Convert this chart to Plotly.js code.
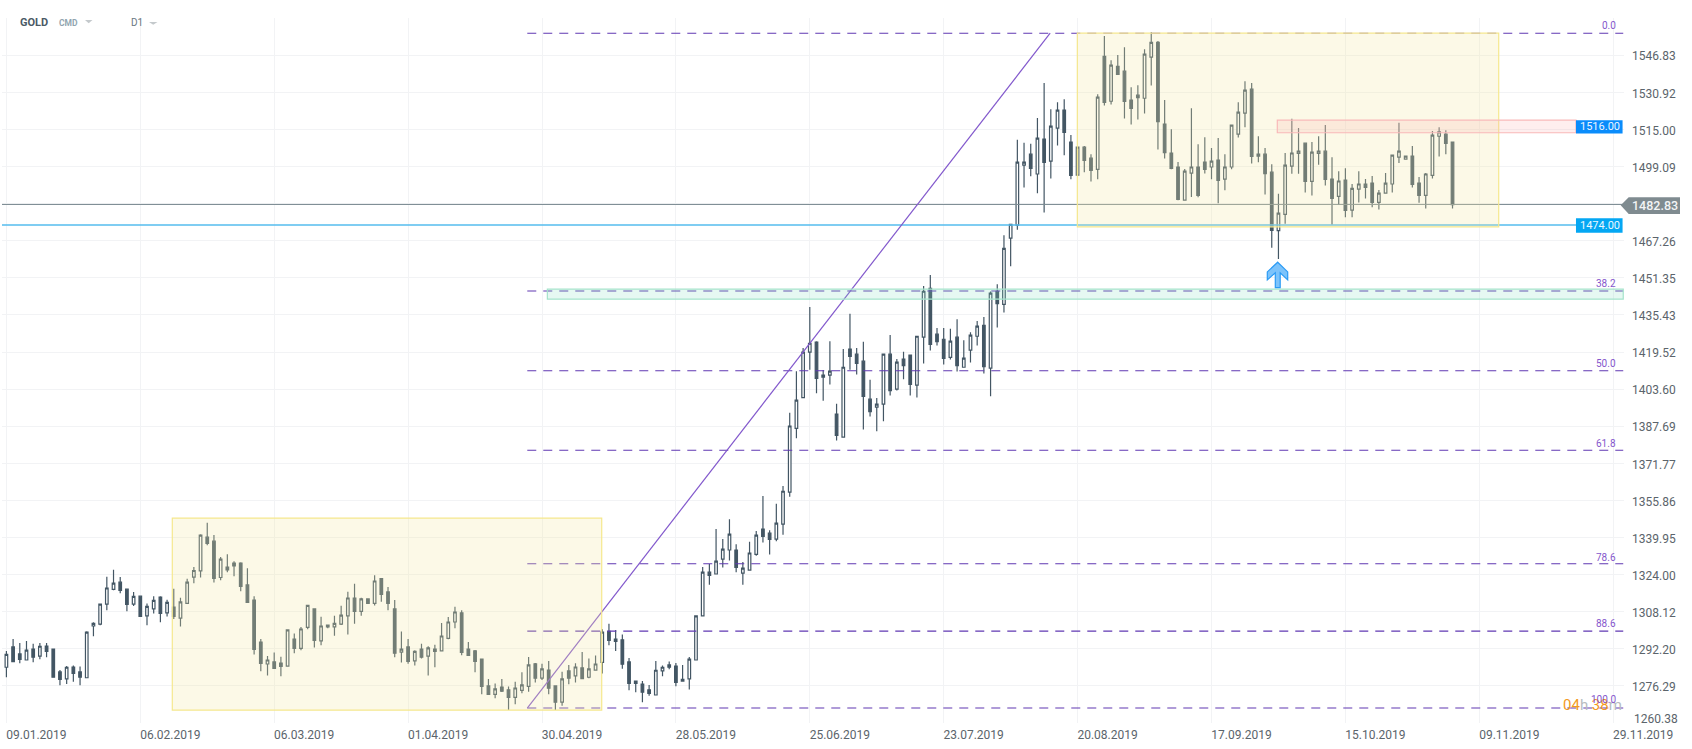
<!DOCTYPE html>
<html><head><meta charset="utf-8">
<script src="https://cdn.plot.ly/plotly-3.0.1.min.js"></script>
<style>html,body{margin:0;padding:0;background:#fff;overflow:hidden}#c{width:1692px;height:749px}</style>
</head><body><div id="c"></div>
<script>
const opens=[1284.3,1293.0,1290.0,1287.4,1292.1,1289.1,1293.4,1292.1,1282.3,1279.3,
1284.4,1282.3,1279.8,1302.0,1302.8,1311.4,1317.7,1320.8,1317.8,1311.4,
1314.8,1306.3,1309.3,1314.4,1307.6,1310.1,1305.4,1311.7,1323.0,1325.6,
1340.1,1338.4,1322.8,1327.3,1329.0,1329.0,1319.6,1313.1,1295.1,1285.7,
1286.6,1286.1,1284.8,1296.4,1292.4,1301.4,1309.3,1295.6,1301.6,1301.6,
1302.8,1306.3,1314.0,1308.3,1313.6,1311.7,1322.3,1316.6,1309.3,1290.8,
1293.0,1287.0,1292.1,1289.1,1292.1,1291.3,1296.7,1303.7,1307.6,1292.1,
1291.3,1287.8,1276.3,1272.7,1275.8,1274.6,1271.4,1274.4,1276.1,1285.8,
1279.6,1283.1,1276.3,1269.3,1282.7,1280.6,1284.0,1280.0,1283.1,1286.4,
1299.7,1296.4,1296.1,1286.6,1278.4,1277.1,1274.6,1272.4,1282.7,1285.3,
1284.8,1278.3,1279.3,1287.4,1306.3,1325.1,1324.3,1330.7,1334.6,1334.6,
1324.7,1326.0,1332.7,1343.6,1341.8,1339.3,1345.7,1359.4,1386.8,1400.0,
1419.5,1423.8,1408.8,1409.6,1392.9,1383.0,1420.8,1418.6,1415.6,1399.3,
1395.9,1397.2,1418.6,1403.6,1416.5,1418.2,1405.3,1425.9,1446.8,1427.2,
1425.0,1417.2,1425.9,1413.0,1420.3,1426.3,1431.0,1412.6,1445.6,1440.0,
1468.4,1474.0,1499.7,1504.4,1495.9,1510.9,1501.4,1515.6,1523.3,1509.6,
1495.4,1507.4,1502.7,1497.9,1546.4,1527.1,1542.1,1540.0,1527.6,1529.7,
1528.4,1546.0,1552.4,1517.3,1504.9,1498.9,1484.7,1496.3,1498.9,1501.0,
1498.9,1501.9,1493.7,1498.9,1513.0,1522.0,1532.3,1503.6,1504.4,1496.7,
1471.6,1478.6,1499.3,1504.7,1509.1,1492.7,1504.7,1505.7,1493.7,1486.3,
1493.3,1480.4,1489.4,1491.6,1492.0,1483.7,1487.7,1491.6,1503.1,1502.3,
1503.6,1492.0,1486.7,1495.3,1512.1,1513.0,1509.6];
const closes=[1289.8,1286.7,1287.7,1291.6,1288.6,1293.3,1291.1,1280.0,1279.1,1284.3,
1281.7,1280.0,1299.4,1303.1,1311.4,1318.3,1320.4,1317.3,1311.3,1314.7,
1306.1,1310.4,1313.0,1307.4,1312.1,1306.1,1312.3,1320.8,1325.8,1341.0,
1337.4,1322.4,1330.7,1326.1,1327.8,1319.0,1312.1,1292.0,1286.0,1287.4,
1283.8,1284.7,1300.3,1292.4,1300.7,1310.8,1295.8,1302.0,1302.4,1303.1,
1306.7,1314.0,1308.3,1313.6,1311.7,1321.3,1315.6,1311.7,1290.3,1292.1,
1286.8,1291.1,1288.6,1292.6,1291.1,1297.7,1303.7,1308.0,1290.7,1289.4,
1286.8,1276.1,1272.7,1275.0,1274.0,1271.4,1275.4,1276.7,1285.3,1279.6,
1283.6,1275.3,1269.3,1279.3,1279.6,1284.4,1279.4,1283.6,1285.7,1299.4,
1295.8,1295.4,1285.6,1277.4,1277.4,1273.6,1273.1,1283.0,1284.3,1284.3,
1277.8,1279.1,1287.8,1306.3,1325.1,1323.7,1329.8,1335.0,1341.4,1327.1,
1326.8,1333.3,1341.0,1340.4,1339.1,1346.1,1359.8,1387.8,1398.9,1419.5,
1423.3,1408.2,1409.6,1411.3,1383.8,1413.0,1417.6,1414.6,1400.5,1394.0,
1397.2,1418.6,1403.0,1415.2,1413.7,1405.6,1426.3,1445.6,1422.8,1424.0,
1416.8,1424.2,1413.7,1416.9,1426.8,1430.6,1413.3,1444.8,1440.3,1464.0,
1474.3,1501.0,1501.0,1498.3,1511.3,1500.9,1516.4,1523.3,1513.7,1495.3,
1507.4,1501.7,1497.4,1528.9,1526.6,1542.6,1538.6,1527.0,1524.0,1528.7,
1547.3,1552.4,1518.4,1505.1,1498.3,1485.0,1497.1,1498.9,1486.7,1497.9,
1501.4,1493.1,1498.9,1516.9,1522.4,1531.9,1503.4,1504.4,1496.1,1471.7,
1479.1,1499.7,1504.9,1505.7,1492.7,1505.3,1505.7,1493.6,1485.4,1492.9,
1480.3,1489.7,1491.6,1490.1,1483.7,1487.7,1492.0,1504.0,1505.7,1503.6,
1491.4,1486.7,1495.9,1512.6,1514.0,1509.0,1482.7];
const highs=[1291.3,1296.4,1294.7,1295.6,1294.4,1294.7,1294.7,1292.1,1283.1,1284.8,
1285.1,1284.6,1299.7,1303.6,1311.6,1323.1,1326.1,1323.0,1317.8,1316.6,
1315.0,1311.6,1314.8,1314.8,1313.3,1318.0,1314.1,1322.3,1327.3,1341.3,
1346.3,1341.0,1331.6,1332.8,1329.8,1329.3,1326.8,1314.8,1296.4,1289.1,
1290.6,1288.8,1300.3,1298.8,1301.6,1311.0,1309.6,1306.0,1302.6,1306.4,
1310.7,1316.7,1320.1,1314.1,1313.6,1323.8,1322.4,1318.7,1313.1,1299.6,
1296.4,1291.6,1294.4,1293.3,1294.0,1303.3,1305.8,1310.3,1308.8,1295.1,
1291.7,1288.0,1279.3,1277.3,1279.3,1276.0,1278.1,1282.1,1288.7,1286.1,
1285.8,1287.0,1276.4,1282.4,1285.3,1286.0,1290.8,1288.0,1289.3,1300.6,
1303.0,1300.3,1298.3,1288.3,1278.4,1278.4,1276.7,1287.0,1285.0,1286.8,
1286.1,1285.3,1288.7,1306.6,1327.3,1328.6,1343.6,1339.3,1347.8,1337.1,
1329.4,1338.1,1342.7,1357.8,1343.1,1354.4,1362.1,1393.5,1411.3,1421.2,
1438.8,1424.2,1411.8,1424.2,1397.3,1420.8,1435.9,1421.3,1423.9,1407.6,
1399.8,1418.6,1426.8,1416.5,1419.6,1418.2,1426.3,1447.8,1452.6,1429.8,
1429.8,1429.5,1433.6,1424.6,1428.0,1432.8,1434.5,1445.5,1448.6,1469.6,
1474.6,1510.6,1509.3,1508.9,1519.9,1534.9,1523.7,1526.7,1528.0,1512.6,
1507.4,1507.9,1504.4,1530.1,1555.1,1544.7,1546.9,1550.3,1533.1,1534.0,
1549.4,1556.7,1552.9,1527.6,1515.1,1501.0,1498.0,1524.1,1508.7,1511.7,
1507.0,1511.3,1504.4,1516.9,1526.7,1535.7,1534.9,1512.1,1507.0,1500.1,
1487.4,1504.9,1519.6,1515.6,1509.1,1509.6,1512.1,1516.9,1503.1,1497.1,
1498.4,1491.6,1497.1,1493.7,1495.0,1489.0,1496.3,1504.0,1517.9,1503.6,
1507.9,1494.6,1496.3,1514.3,1516.0,1514.7,1509.6];
const lows=[1280.0,1286.4,1286.0,1287.4,1286.4,1287.7,1288.6,1280.0,1276.6,1277.1,
1278.1,1276.6,1279.6,1297.6,1302.3,1308.7,1317.3,1316.0,1308.3,1310.6,
1305.8,1302.3,1307.4,1303.6,1306.1,1305.0,1301.8,1311.4,1320.3,1322.8,
1336.6,1320.6,1321.6,1325.0,1323.3,1316.9,1312.1,1289.8,1282.6,1280.8,
1283.6,1280.4,1284.8,1290.3,1291.6,1300.6,1292.8,1293.7,1301.0,1297.8,
1302.4,1298.3,1303.0,1306.4,1311.7,1310.8,1312.4,1308.7,1288.6,1286.3,
1285.8,1285.1,1288.1,1280.8,1284.3,1291.1,1296.3,1301.0,1289.4,1289.4,
1282.1,1272.7,1272.7,1271.0,1273.7,1266.0,1268.4,1273.1,1273.8,1277.8,
1278.8,1272.7,1266.0,1267.8,1277.0,1277.8,1279.1,1279.6,1283.1,1281.6,
1293.7,1291.3,1283.7,1274.4,1273.6,1269.3,1272.1,1272.4,1280.4,1283.4,
1276.1,1278.3,1274.8,1287.4,1306.3,1319.7,1324.3,1327.1,1330.1,1325.0,
1319.7,1325.8,1332.1,1337.8,1332.7,1338.3,1341.1,1357.4,1382.5,1400.0,
1411.9,1401.8,1398.6,1405.6,1381.6,1383.0,1411.9,1409.9,1386.3,1391.9,
1385.5,1389.8,1400.9,1403.0,1407.8,1400.9,1400.0,1414.6,1420.2,1422.3,
1414.2,1416.3,1411.2,1412.9,1415.0,1422.3,1410.3,1400.5,1430.0,1436.5,
1456.3,1472.0,1490.1,1494.9,1487.6,1479.4,1494.0,1508.1,1503.9,1493.6,
1495.4,1496.6,1492.7,1493.6,1525.3,1525.7,1538.6,1519.7,1517.1,1519.3,
1521.9,1533.9,1506.4,1502.6,1497.9,1484.6,1484.7,1486.0,1485.9,1496.1,
1493.6,1483.3,1488.9,1497.9,1511.6,1515.9,1500.4,1500.9,1487.1,1464.3,
1459.4,1474.6,1496.0,1496.0,1488.0,1486.7,1499.9,1491.0,1474.1,1482.6,
1477.3,1477.3,1483.7,1485.4,1481.6,1480.7,1487.7,1488.0,1500.6,1502.3,
1490.1,1483.6,1481.1,1494.0,1503.4,1504.4,1481.1];
const dateTickPos=[0,20,40,60,80,100,120,140,160,180,200,220,240];
const dateTickText=['09.01.2019','06.02.2019','06.03.2019','01.04.2019','30.04.2019','28.05.2019','25.06.2019','23.07.2019','20.08.2019','17.09.2019','15.10.2019','09.11.2019','29.11.2019'];
const priceTicks=[1546.83,1530.92,1515.00,1499.09,1483.18,1467.26,1451.35,1435.43,1419.52,1403.60,1387.69,1371.77,1355.86,1339.95,1324.00,1308.12,1292.20,1276.29,1260.38];
const priceTickText=['1546.83','1530.92','1515.00','1499.09','','1467.26','1451.35','1435.43','1419.52','1403.60','1387.69','1371.77','1355.86','1339.95','1324.00','1308.12','1292.20','1276.29',''];
const fibLabels=['0.0','38.2','50.0','61.8','78.6','88.6','100.0'];
const fibPrices=[1556.3,1445.7,1411.5,1377.4,1328.7,1299.8,1266.8];
const lastPrice=1482.83, support=1474.00, resistance=1516.00, bottomTick=1260.38;

const xs=opens.map((_,i)=>i);
const W=1692,H=749,L=2,R=1624,T=18,B=723.3;
const px=v=>(v-L)/(R-L), py=v=>(B-v)/(B-T);
const xMin=(L-6.4)/6.695, xMax=(R-6.4)/6.695;
const DARK='#435664';
const shapes=[];
const line=(x0,y0,x1,y1,color,width,dash)=>shapes.push({type:'line',xref:'x',yref:'y',x0,y0,x1,y1,layer:'above',line:{color,width,dash:dash||'solid'}});
const rect=(x0,y0,x1,y1,fill,color,width)=>shapes.push({type:'rect',xref:'x',yref:'y',x0,y0,x1,y1,layer:'above',fillcolor:fill,line:{color,width:width==null?1:width}});
const paperPath=(pts,fill,color,width,layer)=>shapes.push({type:'path',xref:'paper',yref:'paper',layer:layer||'above',path:pts.map((p,i)=>(i?'L':'M')+px(p[0])+','+py(p[1])).join(' ')+' Z',fillcolor:fill,line:{color:color||fill,width:width||0}});
const paperRect=(x0,y0,x1,y1,fill,layer)=>shapes.push({type:'rect',xref:'paper',yref:'paper',x0:px(x0),x1:px(x1),y0:py(y0),y1:py(y1),layer:layer||'above',fillcolor:fill,line:{width:0}});

// header mask over the grid
paperRect(104,18,180,32.5,'#ffffff','below');
// horizontal price lines
line(xMin,lastPrice,241.4,lastPrice,'#7b8a92',1);
line(xMin,support,234.44,support,'#55bdee',1.5);
// fibonacci
fibPrices.forEach(p=>line(77.8,p,241.5,p,'#6039b2',1.1,'9px,7px'));
line(77.8,1266.8,155.9,1556.3,'#8258cc',1.2);
// yellow zones drawn over candles
rect(24.78,1265.9,88.92,1348.3,'rgba(243,234,168,0.27)','#f5e88e',1.2);
rect(159.96,1473.2,222.9,1556.3,'rgba(243,234,168,0.27)','#f5e88e',1.2);
// bands
rect(80.8,1442.2,241.5,1446.5,'rgba(130,220,190,0.2)','#a5e3cb',1.2);
rect(189.83,1513.6,234.44,1519.0,'rgba(250,170,170,0.2)','#f9b9b9',1.2);
// value boxes
rect(234.44,1513.3,241.4,1519.0,'#0a8cfb','#0a8cfb',0);
rect(234.44,1470.7,241.4,1476.9,'#04a7f3','#04a7f3',0);
// last price tag
const tagMid=205.3;
paperPath([[1620.7,tagMid],[1628.7,197.3],[1680,197.3],[1680,214],[1628.7,214]],'#7f8b90');
// arrow
paperPath([[1277.7,262.3],[1287.7,272],[1287.7,280],[1280.2,273],[1280.2,287.7],[1275.3,287.7],[1275.3,273],[1267.3,280],[1267.3,272]],'#7cc3fb','#2b9bf5',1.2);
// header carets
paperPath([[85,20],[92.5,20],[88.7,23.3]],'#c4c9cc');
paperPath([[149,22],[157.5,22],[153.2,24.8]],'#c4c9cc');

const ann=(text,xp,yp,anchor,size,color,extra)=>Object.assign({text,xref:'paper',yref:'paper',x:px(xp),y:py(yp),xanchor:anchor,yanchor:'middle',showarrow:false,align:anchor,font:{family:'Roboto, sans-serif',size,color},borderpad:0},extra||{});
const annotations=[
 ann('<b>GOLD</b>',19,23,'left',11,'#4b5a66'),
 ann('<b>CMD</b>',58,23.4,'left',8.5,'#91a5af'),
 ann('D1',129.5,23,'left',10,'#6a7882'),
 ann(resistance.toFixed(2),1599.5,127,'center',11,'#eaf5ff'),
 ann(support.toFixed(2),1599.5,225.4,'center',11,'#eaf8ff'),
 ann(lastPrice.toFixed(2),1654.5,206,'center',12.5,'#f2f4f5',{font:{family:'Roboto, sans-serif',size:12.5,color:'#f2f4f5',weight:500}}),
 ann('<span style="color:#f39a1d">04</span><span style="color:#b7bcc0">h </span><span style="color:#f39a1d">38</span><span style="color:#b7bcc0">m</span>',1623,705,'right',15,'#b7bcc0'),
 ann(bottomTick.toFixed(2),1632.7,719,'left',12,'#5b646b')
];
const labelY={'0.0':26,'38.2':284,'50.0':364,'61.8':443.5,'78.6':557.5,'88.6':623.8,'100.0':700};
fibLabels.forEach(t=>annotations.push(ann(t,1617,labelY[t],'right',10,'#8557cc')));

const gridC='#f2f3f5';
const data=[{type:'candlestick',x:xs,open:opens,high:highs,low:lows,close:closes,
 whiskerwidth:0,hoverinfo:'none',
 increasing:{line:{color:DARK,width:1.2},fillcolor:'#ffffff'},
 decreasing:{line:{color:DARK,width:1.2},fillcolor:DARK}}];
const layout={width:W,height:H,margin:{l:L,r:W-R,t:T,b:H-B,pad:0},paper_bgcolor:'#fff',plot_bgcolor:'#fff',showlegend:false,boxgap:0.45,
 xaxis:{type:'linear',range:[xMin,xMax],tickmode:'array',tickvals:dateTickPos,ticktext:dateTickText,showgrid:true,gridcolor:gridC,gridwidth:1,zeroline:false,showline:false,ticks:'',
  rangeslider:{visible:false},ticklabelshift:30,ticklabelstandoff:3,tickfont:{family:'Roboto, sans-serif',size:12,color:'#5b646b'},fixedrange:true},
 yaxis:{side:'right',type:'linear',range:[1260.38,1562.82],tickmode:'array',tickvals:priceTicks,ticktext:priceTickText,showgrid:true,gridcolor:gridC,gridwidth:1,zeroline:false,showline:false,ticks:'',ticklabelstandoff:7,ticklabelshift:1,
  tickfont:{family:'Roboto, sans-serif',size:12,color:'#5b646b'},fixedrange:true},
 shapes,annotations};
Plotly.newPlot('c',data,layout,{staticPlot:true,displayModeBar:false});
</script></body></html>
